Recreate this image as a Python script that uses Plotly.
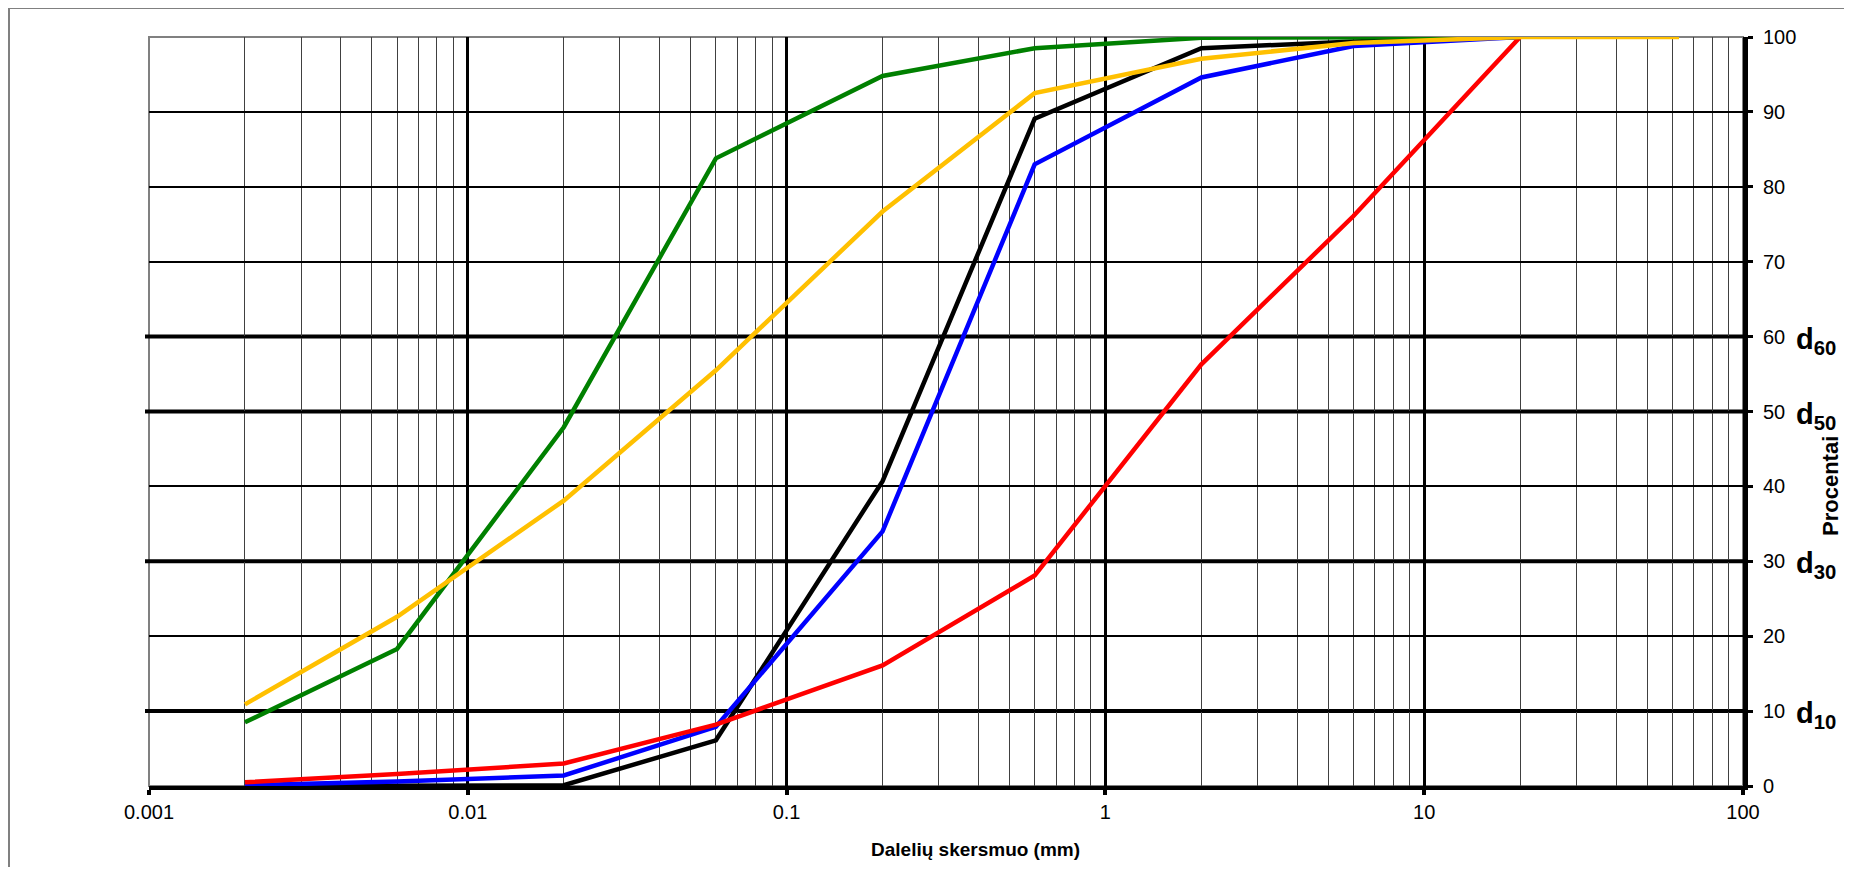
import plotly.graph_objects as go

# ---- data ----
sizes = [0.002, 0.006, 0.02, 0.06, 0.2, 0.6, 2, 6, 20, 63]
black = [0.0, 0.0, 0.1, 6.1, 40.7, 89.1, 98.5, 99.4, 100]
blue = [0.1, 0.6, 1.4, 7.9, 34.0, 83.0, 94.6, 98.8, 100]
red = [0.5, 1.6, 3.0, 8.2, 16.1, 28.1, 56.3, 76.1, 100]
green = [8.5, 18.3, 47.9, 83.8, 94.8, 98.5, 99.9, 100, 100]
yellow = [10.9, 22.6, 38.1, 55.5, 76.7, 92.5, 97.1, 99.2, 100, 100]

x_tickvals = [0.001, 0.01, 0.1, 1, 10, 100]
x_ticktext = ["0.001", "0.01", "0.1", "1", "10", "100"]
y_tickvals = [0, 10, 20, 30, 40, 50, 60, 70, 80, 90, 100]
d_levels = [60, 50, 30, 10]
x_title = "Dalelių skersmuo (mm)"
y_title = "Procentai"

series = [
    ("black", black, "#000000"),
    ("blue", blue, "#0000FF"),
    ("red", red, "#FF0000"),
    ("green", green, "#008000"),
    ("yellow", yellow, "#FFC000"),
]

FONT = "Liberation Sans, Arial, sans-serif"

# geometry (figure pixels; page body has 8px margin)
W, H = 1836, 859
L, R, T, B = 141, 101, 29, 81
pw, ph = W - L - R, H - T - B


def px_to_paper_x(px):
    return (px - L) / pw


def px_to_paper_y(py):
    return (H - B - py) / ph


fig = go.Figure()
for name, vals, col in series:
    fig.add_trace(go.Scatter(
        x=sizes[:len(vals)], y=vals, mode="lines", name=name,
        line=dict(color=col, width=4.5), showlegend=False, hoverinfo="skip",
    ))

shapes = []
# plot border (grey left/top)
shapes.append(dict(type="rect", xref="paper", yref="paper", x0=0, x1=1, y0=0, y1=1,
                   line=dict(color="#808080", width=2), layer="between"))
# thick d-lines
for d in d_levels:
    shapes.append(dict(type="line", xref="paper", yref="y", x0=px_to_paper_x(L - 4), x1=1,
                       y0=d, y1=d, line=dict(color="#000000", width=4), layer="between"))
# outer frame
shapes.append(dict(type="rect", xref="paper", yref="paper",
                   x0=px_to_paper_x(1), x1=px_to_paper_x(W + 20),
                   y0=px_to_paper_y(H + 20), y1=px_to_paper_y(0),
                   line=dict(color="#808080", width=2), layer="below"))

annotations = []
for d in d_levels:
    annotations.append(dict(
        xref="paper", yref="y", x=px_to_paper_x(1786), y=d, xanchor="left", yanchor="middle",
        text="<b>d<sub>%d</sub></b>" % d, showarrow=False, yshift=-4,
        font=dict(family=FONT, size=29, color="#000000"),
    ))
annotations.append(dict(
    xref="paper", yref="paper", x=px_to_paper_x(967), y=px_to_paper_y(842),
    xanchor="center", yanchor="middle", text="<b>%s</b>" % x_title, showarrow=False,
    font=dict(family=FONT, size=19, color="#000000"),
))
annotations.append(dict(
    xref="paper", yref="paper", x=px_to_paper_x(1822), y=px_to_paper_y(478),
    xanchor="center", yanchor="middle", text="<b>%s</b>" % y_title, showarrow=False,
    textangle=-90, font=dict(family=FONT, size=22, color="#000000"),
))

fig.update_layout(
    width=W, height=H, margin=dict(l=L, r=R, t=T, b=B, pad=0),
    paper_bgcolor="white", plot_bgcolor="white",
    font=dict(family=FONT, size=20, color="#000000"),
    shapes=shapes, annotations=annotations, showlegend=False,
    xaxis=dict(
        type="log", range=[-3, 2], tickvals=x_tickvals, ticktext=x_ticktext,
        showgrid=True, gridcolor="#000000", gridwidth=2.5,
        minor=dict(dtick="D1", showgrid=True, gridcolor="#404040", gridwidth=1.2, ticks=""),
        showline=True, linecolor="#000000", linewidth=4,
        ticks="outside", ticklen=5, tickwidth=4, tickcolor="#000000",
        tickfont=dict(family=FONT, size=20), zeroline=False,
    ),
    yaxis=dict(
        range=[0, 100], tickvals=y_tickvals, side="right",
        showgrid=True, gridcolor="#000000", gridwidth=2,
        showline=True, linecolor="#000000", linewidth=5,
        ticks="outside", ticklen=5, tickwidth=3, tickcolor="#000000",
        tickfont=dict(family=FONT, size=20), zeroline=False, ticklabelstandoff=6,
    ),
)

fig.write_html("out.html")
